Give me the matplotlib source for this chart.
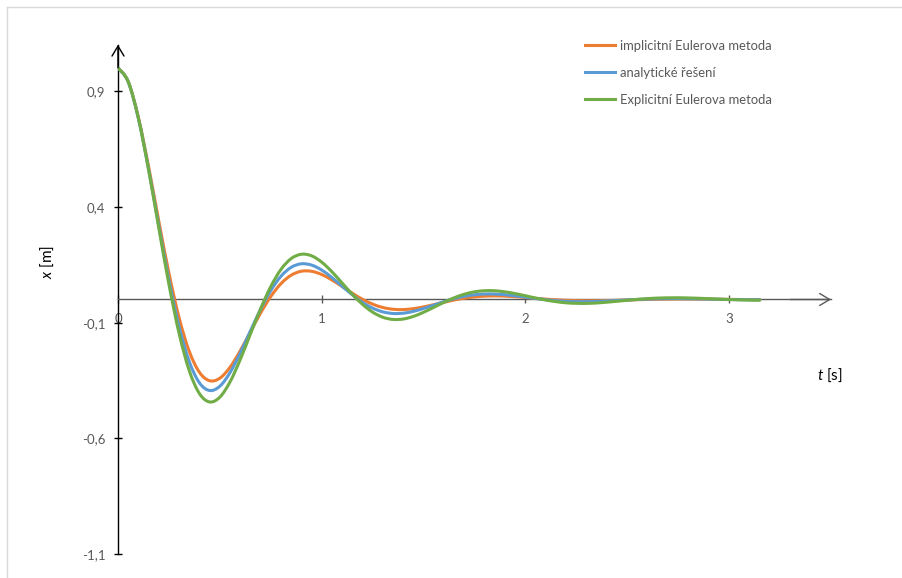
import matplotlib
matplotlib.use('Agg')
import matplotlib.pyplot as plt
from matplotlib.lines import Line2D
from matplotlib.path import Path
from matplotlib.patches import PathPatch

plt.rcParams['font.family'] = ['Lato', 'DejaVu Sans']
plt.rcParams['mathtext.fontset'] = 'custom'
plt.rcParams['mathtext.it'] = 'Lato:italic'
plt.rcParams['mathtext.rm'] = 'Lato'

# cas [s]
t = [0.0, 0.05, 0.1, 0.15, 0.2, 0.25, 0.3, 0.35, 0.4, 0.45,
     0.5, 0.55, 0.6, 0.65, 0.7, 0.75, 0.8, 0.85, 0.9, 0.95,
     1.0, 1.05, 1.1, 1.15, 1.2, 1.25, 1.3, 1.35, 1.4, 1.45,
     1.5, 1.55, 1.6, 1.65, 1.7, 1.75, 1.8, 1.85, 1.9, 1.95,
     2.0, 2.1, 2.2, 2.3, 2.4, 2.5, 2.6, 2.7, 2.8, 2.9,
     3.0, 3.1, 3.15]

# implicitni Euler
x_impl = [1.0, 0.9410, 0.7868, 0.5745, 0.3398, 0.1139, -0.0792, -0.2243, -0.3145, -0.3507,
          -0.3397, -0.2923, -0.2213, -0.1395, -0.0584, 0.0130, 0.0684, 0.1049, 0.1220, 0.1218,
          0.1078, 0.0844, 0.0561, 0.0272, 0.0010, -0.0200, -0.0345, -0.0421, -0.0434, -0.0395,
          -0.0319, -0.0222, -0.0120, -0.0024, 0.0055, 0.0112, 0.0144, 0.0154, 0.0144, 0.0120,
          0.0087, 0.0016, -0.0035, -0.0054, -0.0045, -0.0021, 0.0002, 0.0016, 0.0019, 0.0013,
          0.0004, -0.0003, -0.0005]

# analyticke reseni
x_anal = [1.0, 0.9401, 0.7822, 0.5633, 0.3194, 0.0838, -0.1178, -0.2685, -0.3600, -0.3929,
          -0.3742, -0.3156, -0.2313, -0.1358, -0.0423, 0.0388, 0.1004, 0.1389, 0.1541, 0.1487,
          0.1271, 0.0948, 0.0574, 0.0204, -0.0122, -0.0373, -0.0534, -0.0604, -0.0591, -0.0512,
          -0.0388, -0.0242, -0.0095, 0.0036, 0.0138, 0.0205, 0.0237, 0.0234, 0.0205, 0.0158,
          0.0101, -0.0009, -0.0079, -0.0093, -0.0064, -0.0019, 0.0018, 0.0036, 0.0033, 0.0018,
          0.0000, -0.0011, -0.0014]

# explicitni Euler
x_expl = [1.0, 0.9406, 0.7827, 0.5607, 0.3103, 0.0654, -0.1469, -0.3076, -0.4065, -0.4423,
          -0.4215, -0.3555, -0.2595, -0.1492, -0.0399, 0.0560, 0.1299, 0.1766, 0.1954, 0.1886,
          0.1612, 0.1198, 0.0713, 0.0226, -0.0207, -0.0546, -0.0766, -0.0861, -0.0843, -0.0730,
          -0.0551, -0.0339, -0.0122, 0.0073, 0.0228, 0.0331, 0.0380, 0.0376, 0.0330, 0.0254,
          0.0161, -0.0024, -0.0143, -0.0168, -0.0116, -0.0033, 0.0039, 0.0073, 0.0067, 0.0035,
          -0.0001, -0.0026, -0.0032]

names = ['implicitní Eulerova metoda', 'analytické řešení', 'Explicitní Eulerova metoda']
colors = ['#ED7D31', '#5B9BD5', '#70AD47']

xticks = [0, 1, 2, 3]
yticks = [-1.1, -0.6, -0.1, 0.4, 0.9]
ylabels = ['-1,1', '-0,6', '-0,1', '0,4', '0,9']

gray = '#595959'


def smooth_path(xs, ys):
    # vyhlazena cara jako v Excelu (Bezier pres body)
    n = len(xs)
    verts = [(xs[0], ys[0])]
    codes = [Path.MOVETO]
    for i in range(n - 1):
        a = max(i - 1, 0)
        b = min(i + 2, n - 1)
        c1 = (xs[i] + (xs[i + 1] - xs[a]) / 6, ys[i] + (ys[i + 1] - ys[a]) / 6)
        c2 = (xs[i + 1] - (xs[b] - xs[i]) / 6, ys[i + 1] - (ys[b] - ys[i]) / 6)
        verts += [c1, c2, (xs[i + 1], ys[i + 1])]
        codes += [Path.CURVE4] * 3
    return Path(verts, codes)


fig = plt.figure(figsize=(9.03, 5.78), dpi=100)
ax = fig.add_axes([118 / 903, 1 - 554.3 / 578, (831 - 118) / 903, (554.3 - 44.7) / 578])
ax.set_xlim(0, 3.5)
ax.set_ylim(-1.1, 1.1)

handles = []
for ys, name, col in zip([x_impl, x_anal, x_expl], names, colors):
    ax.add_patch(PathPatch(smooth_path(t, ys), facecolor='none', edgecolor=col, lw=2.2,
                           capstyle='round', joinstyle='round', zorder=3))
    handles.append(Line2D([], [], color=col, lw=2.2, label=name))

# osy pres nulu
ax.spines['top'].set_visible(False)
ax.spines['right'].set_visible(False)
ax.spines['left'].set_position(('data', 0))
ax.spines['bottom'].set_position(('data', 0))
ax.spines['left'].set_color('black')
ax.spines['bottom'].set_color(gray)
ax.spines['left'].set_linewidth(1.0)
ax.spines['bottom'].set_linewidth(1.0)

ax.set_xticks(xticks)
ax.set_xticklabels([str(v) for v in xticks])
ax.set_yticks(yticks)
ax.set_yticklabels(ylabels)
ax.tick_params(axis='y', direction='inout', length=6, width=1, color='black',
               labelcolor=gray, labelsize=9.5, pad=6)
ax.tick_params(axis='x', direction='inout', length=6, width=1, color=gray,
               labelcolor=gray, labelsize=9.5, pad=7)

# sipky
arrow = dict(arrowstyle='->,head_length=0.6,head_width=0.36', lw=1.0,
             mutation_scale=12, shrinkA=0, shrinkB=0)
ax.annotate('', xy=(0, 1.1), xytext=(0, 1.0), annotation_clip=False,
            arrowprops=dict(arrow, color='black'))
ax.annotate('', xy=(3.5, 0), xytext=(3.3, 0), annotation_clip=False,
            arrowprops=dict(arrow, color=gray))

fig.text(47 / 903, 1 - 262 / 578, r'$x$ [m]', rotation=90, ha='center', va='center',
         fontsize=11, color='black')
fig.text(830 / 903, 1 - 375 / 578, r'$t$ [s]', ha='center', va='center',
         fontsize=11, color='black')

leg = ax.legend(handles=handles, loc='upper left', bbox_to_anchor=(585 / 903, 1 - 39.5 / 578),
                bbox_transform=fig.transFigure, frameon=False, fontsize=9.4,
                handlelength=2.3, handletextpad=0.38, labelspacing=1.17,
                borderpad=0, borderaxespad=0)
for txt in leg.get_texts():
    txt.set_color(gray)

# ramecek grafu
fig.add_artist(Line2D([7 / 903, 7 / 903], [0, 1 - 7 / 578], transform=fig.transFigure,
                      color='#D9D9D9', lw=1))
fig.add_artist(Line2D([7 / 903, 1], [1 - 7 / 578, 1 - 7 / 578], transform=fig.transFigure,
                      color='#D9D9D9', lw=1))

fig.savefig('out.png', dpi=100)
